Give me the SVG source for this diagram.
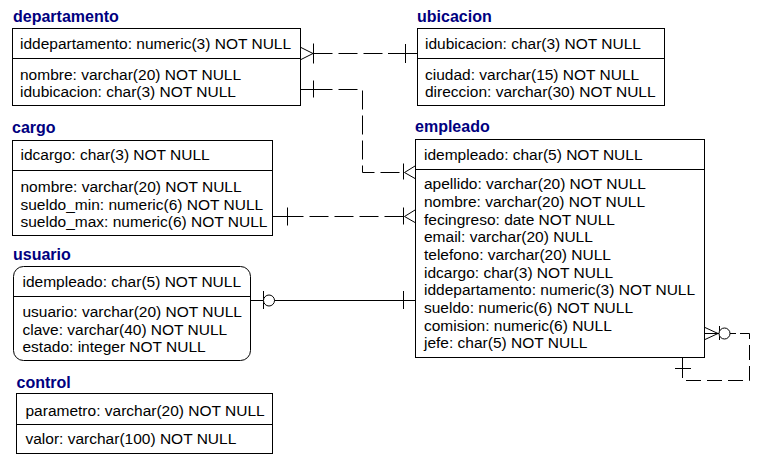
<svg xmlns="http://www.w3.org/2000/svg" width="764" height="465" viewBox="0 0 764 465">
<style>
.bg{fill:#ffffff}
.box{fill:#ffffff;stroke:#000000;stroke-width:1}
.div{stroke:#000000;stroke-width:1;fill:none}
.title{font-family:"Liberation Sans",Arial,sans-serif;font-size:16px;font-weight:bold;fill:#000080}
.row{font-family:"Liberation Sans",Arial,sans-serif;font-size:15.5px;fill:#000000}
.ln{stroke:#000000;stroke-width:1;fill:none}
.dash{stroke:#000000;stroke-width:1;fill:none;stroke-dasharray:19 6}
</style>
<rect class="bg" x="0" y="0" width="764" height="465"/>

<g id="departamento">
<text class="title" x="13" y="22">departamento</text>
<rect class="box" x="12.5" y="28.5" width="288" height="77"/>
<line class="div" x1="12.5" y1="58.5" x2="300.5" y2="58.5"/>
<text class="row" x="20" y="49">iddepartamento: numeric(3) NOT NULL</text>
<text class="row" x="20" y="79.5">nombre: varchar(20) NOT NULL</text>
<text class="row" x="20" y="96.5">idubicacion: char(3) NOT NULL</text>
</g>

<g id="ubicacion">
<text class="title" x="417" y="22">ubicacion</text>
<rect class="box" x="417.5" y="28.5" width="247" height="77"/>
<line class="div" x1="417.5" y1="58.5" x2="664.5" y2="58.5"/>
<text class="row" x="425" y="49">idubicacion: char(3) NOT NULL</text>
<text class="row" x="425" y="80">ciudad: varchar(15) NOT NULL</text>
<text class="row" x="425" y="96.5">direccion: varchar(30) NOT NULL</text>
</g>

<g id="cargo">
<text class="title" x="12" y="133">cargo</text>
<rect class="box" x="12.5" y="140.5" width="260" height="95"/>
<line class="div" x1="12.5" y1="170.5" x2="272.5" y2="170.5"/>
<text class="row" x="20.5" y="160">idcargo: char(3) NOT NULL</text>
<text class="row" x="20.5" y="192.3">nombre: varchar(20) NOT NULL</text>
<text class="row" x="20.5" y="209.5">sueldo_min: numeric(6) NOT NULL</text>
<text class="row" x="20.5" y="226.7">sueldo_max: numeric(6) NOT NULL</text>
</g>

<g id="empleado">
<text class="title" x="415" y="131.5">empleado</text>
<rect class="box" x="415.5" y="139.5" width="289" height="218"/>
<line class="div" x1="415.5" y1="169.5" x2="704.5" y2="169.5"/>
<text class="row" x="424" y="160">idempleado: char(5) NOT NULL</text>
<text class="row" x="424" y="189.3">apellido: varchar(20) NOT NULL</text>
<text class="row" x="424" y="207">nombre: varchar(20) NOT NULL</text>
<text class="row" x="424" y="224.6">fecingreso: date NOT NULL</text>
<text class="row" x="424" y="242.3">email: varchar(20) NULL</text>
<text class="row" x="424" y="260">telefono: varchar(20) NULL</text>
<text class="row" x="424" y="277.6">idcargo: char(3) NOT NULL</text>
<text class="row" x="424" y="295.3">iddepartamento: numeric(3) NOT NULL</text>
<text class="row" x="424" y="313">sueldo: numeric(6) NOT NULL</text>
<text class="row" x="424" y="330.6">comision: numeric(6) NULL</text>
<text class="row" x="424" y="348.3">jefe: char(5) NOT NULL</text>
</g>

<g id="usuario">
<text class="title" x="13" y="260">usuario</text>
<rect class="box" x="13.5" y="266.5" width="237" height="94" rx="10" ry="10"/>
<line class="div" x1="13.5" y1="296.5" x2="250.5" y2="296.5"/>
<text class="row" x="22.5" y="286.7">idempleado: char(5) NOT NULL</text>
<text class="row" x="22.5" y="317.3">usuario: varchar(20) NOT NULL</text>
<text class="row" x="22.5" y="334.8">clave: varchar(40) NOT NULL</text>
<text class="row" x="22.5" y="352.3">estado: integer NOT NULL</text>
</g>

<g id="control">
<text class="title" x="16.5" y="387.5">control</text>
<rect class="box" x="16.5" y="393.5" width="256" height="60"/>
<line class="div" x1="16.5" y1="424.5" x2="272.5" y2="424.5"/>
<text class="row" x="25.5" y="415.7">parametro: varchar(20) NOT NULL</text>
<text class="row" x="25.5" y="444">valor: varchar(100) NOT NULL</text>
</g>

<g id="connectors">
<!-- departamento - ubicacion -->
<path class="ln" d="M301,47.5 L313,53.5 L301,59.5"/>
<line class="ln" x1="313.5" y1="43.5" x2="313.5" y2="63.5"/>
<path class="dash" d="M313.5,53.5 H405"/>
<line class="ln" x1="388" y1="53.5" x2="417" y2="53.5"/>
<line class="ln" x1="405.5" y1="44" x2="405.5" y2="63"/>

<!-- departamento - empleado -->
<line class="ln" x1="301" y1="89.5" x2="313.5" y2="89.5"/>
<line class="ln" x1="313.5" y1="80.5" x2="313.5" y2="97.5"/>
<path class="dash" d="M313.5,89.5 H362.5 V172.5 H403.5"/>
<line class="ln" x1="403.5" y1="163.5" x2="403.5" y2="179.5"/>
<path class="ln" d="M415,166 L404.5,172.5 L415,178.5"/>

<!-- cargo - empleado -->
<line class="ln" x1="273" y1="216.5" x2="287.5" y2="216.5"/>
<line class="ln" x1="287.5" y1="207.5" x2="287.5" y2="225.5"/>
<path class="dash" d="M403.5,216.5 H287.5"/>
<line class="ln" x1="403.5" y1="207.5" x2="403.5" y2="224.5"/>
<path class="ln" d="M415,210 L404.5,216.5 L415,222.5"/>

<!-- usuario - empleado -->
<line class="ln" x1="250.5" y1="300.5" x2="415.5" y2="300.5"/>
<line class="ln" x1="263.5" y1="291" x2="263.5" y2="309"/>
<circle cx="269" cy="300.5" r="5.5" fill="#ffffff" stroke="#000000" stroke-width="1"/>
<line class="ln" x1="403.5" y1="291" x2="403.5" y2="309"/>

<!-- empleado self relation -->
<path class="ln" d="M705,327.5 L718,333.5 L705,339.5"/>
<line class="ln" x1="705" y1="333.5" x2="736" y2="333.5"/>
<line class="ln" x1="719.5" y1="326" x2="719.5" y2="340"/>
<circle cx="724.5" cy="333.5" r="5.5" fill="#ffffff" stroke="#000000" stroke-width="1"/>
<path class="dash" style="stroke-dasharray:15 6" d="M740,333.5 H749.5 V380.5 H682.5 V368.5"/>
<line class="ln" x1="682.5" y1="357.5" x2="682.5" y2="372"/>
<line class="ln" x1="675" y1="368.5" x2="691" y2="368.5"/>
</g>
</svg>
